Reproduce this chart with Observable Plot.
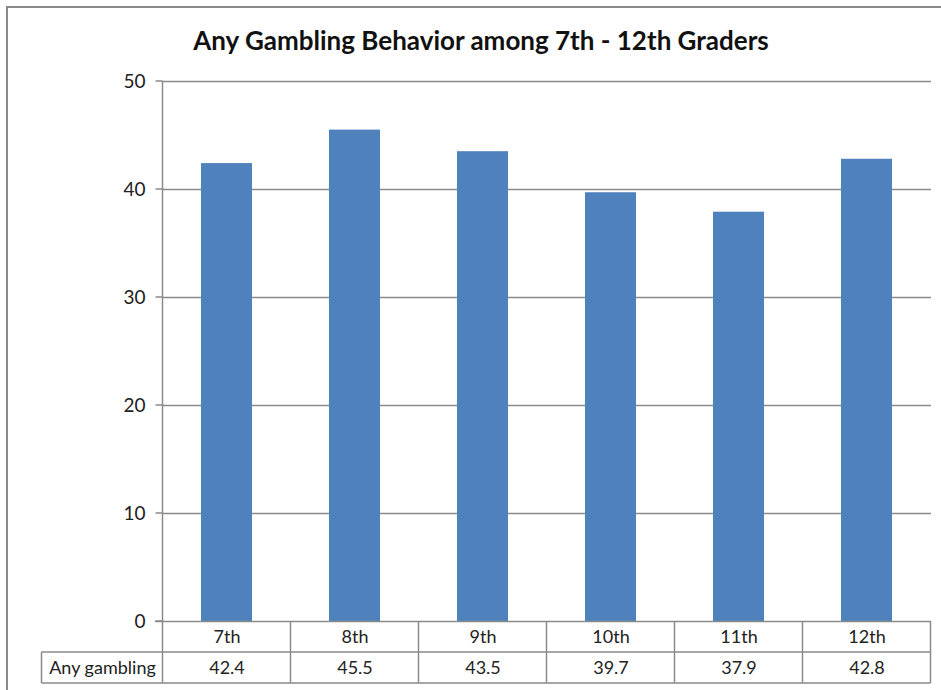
<!DOCTYPE html>
<html>
<head>
<meta charset="utf-8">
<script src="https://cdn.jsdelivr.net/npm/d3@7"></script>
<script src="https://cdn.jsdelivr.net/npm/@observablehq/plot@0.6"></script>
<style>
  html, body { margin: 0; padding: 0; background: #fff; }
  #wrap { position: relative; width: 941px; height: 690px; overflow: hidden; }
  #border { position: absolute; left: 6px; top: 6px; right: -10px; bottom: -10px; border-left: 2px solid #8a8a8a; border-top: 2px solid #8a8a8a; pointer-events: none; }
  #chart { position: absolute; left: 0; top: 0; }
</style>
</head>
<body>
<div id="wrap"><div id="chart"></div><div id="border"></div></div>
<script>
const title = "Any Gambling Behavior among 7th - 12th Graders";
const grades = ["7th", "8th", "9th", "10th", "11th", "12th"];
const anyGambling = [42.4, 45.5, 43.5, 39.7, 37.9, 42.8];
const seriesName = "Any gambling";
const yTicks = [0, 10, 20, 30, 40, 50];

const data = grades.map((g, i) => ({grade: g, value: anyGambling[i]}));

const W = 941, H = 690, mL = 162, mR = 10, mT = 81, mB = 69;
const FONT = "Lato, 'Open Sans', sans-serif";
const GRID = "#8a8a8a";

const plot = Plot.plot({
  width: W, height: H,
  marginLeft: mL, marginRight: mR, marginTop: mT, marginBottom: mB,
  style: {fontFamily: FONT, fontSize: "18px", color: "#222", background: "transparent", overflow: "visible"},
  x: {domain: grades, paddingInner: 0.6, paddingOuter: 0.3, axis: null},
  y: {domain: [0, 50], axis: null},
  marks: [
    Plot.ruleY(yTicks.filter(t => t > 0), {stroke: GRID, strokeWidth: 1.5}),
    Plot.barY(data, {x: "grade", y: "value", fill: "#4f81bd"}),
    Plot.ruleY([0], {stroke: GRID, strokeWidth: 1.5, insetLeft: -7}),
    Plot.text(yTicks, {y: d => d, text: d => String(d), frameAnchor: "left", textAnchor: "end", lineAnchor: "middle", dx: -17, fontSize: 19, fill: "#222"}),
    Plot.text(data, {x: "grade", y: 0, text: "grade", lineAnchor: "middle", dy: 16, fontSize: 18, fill: "#222"}),
    Plot.text(data, {x: "grade", y: 0, text: d => d.value.toFixed(1), lineAnchor: "middle", dy: 47, fontSize: 18, fill: "#222"}),
    Plot.text([seriesName], {frameAnchor: "bottom-left", lineAnchor: "middle", text: d => d, dx: -60, dy: 47, textAnchor: "middle", fontSize: 18, fill: "#222"}),
    Plot.text([title], {frameAnchor: "top", lineAnchor: "middle", text: d => d, dx: -66, dy: -40, fontSize: 26, fontWeight: "bold", fill: "#111"})
  ]
});

document.getElementById("chart").appendChild(plot);

// Axis line, short ticks and data-table grid, positioned with Plot's own scales
const xs = plot.scale("x");
const ys = plot.scale("y");
const step = xs.step;
const bw = xs.bandwidth;
const y0 = ys.apply(0);
const row1 = y0 + 31, row2 = y0 + 62;
const svg = d3.select(plot);
const g = svg.append("g").attr("stroke", GRID).attr("stroke-width", 1.5).attr("fill", "none");
const firstLeft = xs.apply(grades[0]) + bw / 2 - step / 2;
const lastRight = xs.apply(grades[grades.length - 1]) + bw / 2 + step / 2;
g.append("line").attr("x1", firstLeft).attr("x2", firstLeft).attr("y1", ys.apply(50)).attr("y2", row2);
yTicks.forEach(t => g.append("line").attr("x1", firstLeft - 7).attr("x2", firstLeft).attr("y1", ys.apply(t)).attr("y2", ys.apply(t)));
grades.forEach(c => {
  const xr = xs.apply(c) + bw / 2 + step / 2;
  g.append("line").attr("x1", xr).attr("x2", xr).attr("y1", y0).attr("y2", row2);
});
const labelLeft = firstLeft - 121;
[row1, row2].forEach(r => g.append("line").attr("x1", labelLeft).attr("x2", lastRight).attr("y1", r).attr("y2", r));
g.append("line").attr("x1", labelLeft).attr("x2", labelLeft).attr("y1", row1).attr("y2", row2);
</script>
</body>
</html>
